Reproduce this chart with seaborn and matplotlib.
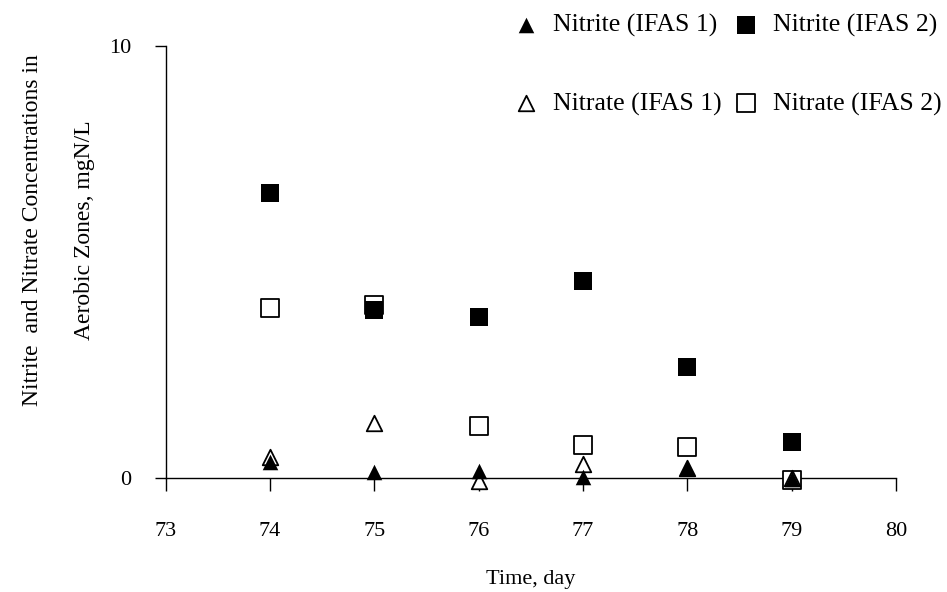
import matplotlib
matplotlib.use("Agg")
import matplotlib.pyplot as plt
import seaborn as sns
import pandas as pd

# Sampling days and measured concentrations (mgN/L)
days = [74, 75, 76, 77, 78, 79]
nitrite_ifas1 = [0.38, 0.14, 0.16, 0.03, 0.22, -0.03]
nitrate_ifas1 = [0.48, 1.28, -0.07, 0.32, 0.24, 0.00]
nitrite_ifas2 = [6.60, 3.88, 3.72, 4.55, 2.58, 0.83]
nitrate_ifas2 = [3.93, 4.00, 1.20, 0.76, 0.72, -0.04]

x_ticks = [73, 74, 75, 76, 77, 78, 79, 80]
y_ticks = [0, 10]

sns.set_theme(style="white")
plt.rcParams["font.family"] = ["Liberation Serif", "DejaVu Serif"]
for key in ("text.color", "axes.labelcolor", "xtick.color", "ytick.color"):
    plt.rcParams[key] = "black"

fig = plt.figure(figsize=(9.47, 5.92), dpi=100)
ax = fig.add_axes([0.175, 0.1926, 0.771, 0.7297])

series = [
    ("Nitrate (IFAS 2)", nitrate_ifas2, "s", "white", 150, 1.3),
    ("Nitrite (IFAS 2)", nitrite_ifas2, "s", "black", 150, 0.0),
    ("Nitrate (IFAS 1)", nitrate_ifas1, "^", "white", 125, 1.3),
    ("Nitrite (IFAS 1)", nitrite_ifas1, "^", "black", 125, 0.0),
]
handles = {}
for label, vals, marker, face, size, lw in series:
    df = pd.DataFrame({"day": days, "conc": vals})
    sns.scatterplot(data=df, x="day", y="conc", marker=marker, s=size,
                    color=face, edgecolor="black", linewidth=lw,
                    clip_on=False, zorder=3, ax=ax, label=label, legend=False)
    handles[label] = ax.collections[-1]

ax.set_xlim(73, 80)
ax.set_ylim(0, 10)
ax.set_xticks(x_ticks)
ax.set_yticks(y_ticks)
ax.tick_params(axis="x", direction="out", length=9.5, width=1.0, pad=22.5,
               labelsize=16, colors="black", bottom=True)
ax.tick_params(axis="y", direction="out", length=8, width=1.0, pad=17,
               labelsize=16, colors="black", left=True)

for side in ("top", "right"):
    ax.spines[side].set_visible(False)
for side in ("left", "bottom"):
    ax.spines[side].set_color("black")
    ax.spines[side].set_linewidth(1.0)
ax.grid(False)

ax.set_xlabel("Time, day", fontsize=16, labelpad=20.5, color="black")
ax.set_ylabel("Nitrite  and Nitrate Concentrations in\nAerobic Zones, mgN/L",
              fontsize=17, linespacing=2.95, ha="center", va="center",
              color="black")
ax.yaxis.set_label_coords(-0.147, 0.574)

order = ["Nitrite (IFAS 1)", "Nitrate (IFAS 1)", "Nitrite (IFAS 2)", "Nitrate (IFAS 2)"]
leg = fig.legend([handles[k] for k in order], order, ncol=2, frameon=False,
                 loc="upper right", bbox_to_anchor=(1.016, 1.012),
                 fontsize=18.5, handlelength=1.0, handletextpad=0.55,
                 columnspacing=0.45, labelspacing=2.15, borderpad=0.3,
                 scatterpoints=1)
for t in leg.get_texts():
    t.set_color("black")

fig.savefig("out.png", dpi=100, facecolor="white")
